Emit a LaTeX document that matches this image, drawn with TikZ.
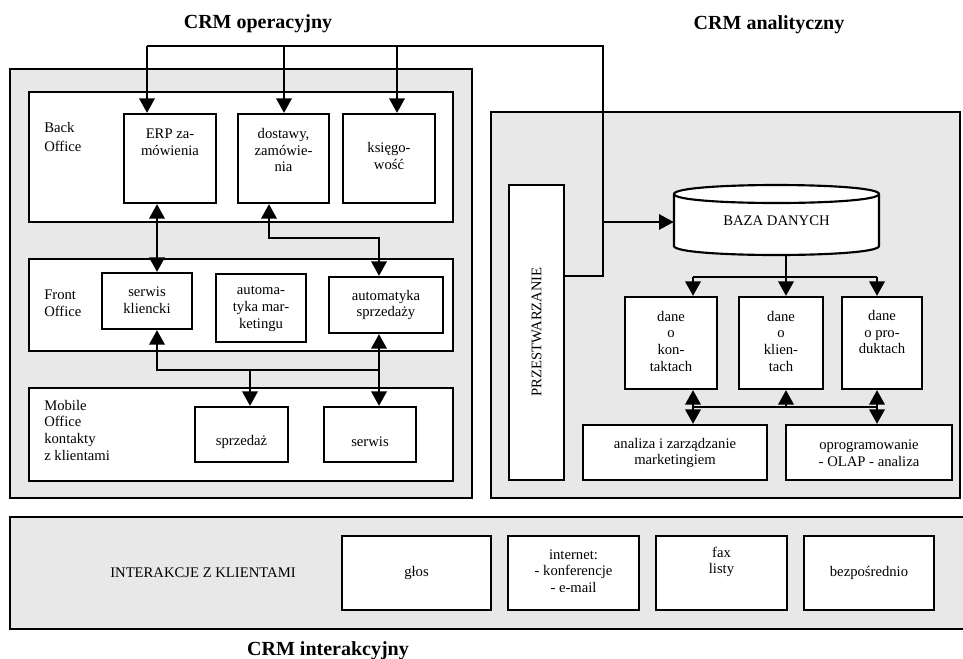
\documentclass[tikz,border=0pt]{standalone}
\usepackage{fontspec}
\setmainfont{Liberation Serif}
\usetikzlibrary{arrows.meta,fit,calc}
\definecolor{panelgray}{RGB}{232,232,232}
\begin{document}
\begin{tikzpicture}[x=0.75pt,y=-0.75pt,
  every node/.style={font=\fontsize{11}{12.5}\selectfont, inner sep=0pt, align=center},
  panel/.style={draw, fill=panelgray, line width=1.3pt, inner sep=0pt},
  office/.style={draw, fill=white, line width=1.5pt, inner sep=0pt},
  box/.style={draw, fill=white, line width=1.6pt, inner sep=0pt},
  ghost/.style={inner sep=0pt},
  conn/.style={line width=2.1pt},
  thinconn/.style={line width=1.4pt},
  title/.style={font=\fontsize{15}{18}\selectfont\bfseries, anchor=base},
  >={Triangle[width=11.5pt,length=11pt]}
]
\useasboundingbox (0,0) rectangle (963,658);

% titles
\node[title] (t1) at (258,28) {CRM operacyjny};
\node[title] (t2) at (769,29) {CRM analityczny};
\node[title] (t3) at (328,655) {CRM interakcyjny};

% panels
\node[panel, fit={(10,69) (472,498)}] (opPanel) {};
\node[panel, fit={(491,112) (960,498)}] (anPanel) {};
\node[panel, fit={(10,517) (970,629)}] (inPanel) {};

% offices
\node[office, fit={(29,92) (453,222)}] (back) {};
\node[office, fit={(29,259) (453,351)}] (front) {};
\node[office, fit={(29,388) (453,481)}] (mobile) {};

\node[anchor=west, align=left, font=\fontsize{11}{14}\selectfont] (tback) at (44,137) {Back\\Office};
\node[anchor=west, align=left] (tfront) at (44,303) {Front\\Office};
\node[anchor=west, align=left] (tmobile) at (44,430) {Mobile\\Office\\kontakty\\z klientami};

% operational boxes
\node[box, fit={(124,114) (216,203)}] (erp) {};
\node[box, fit={(238,114) (329,203)}] (dost) {};
\node[box, fit={(343,114) (435,203)}] (ksieg) {};
\node[box, fit={(102,273) (192,329)}] (serk) {};
\node[box, fit={(216,274) (306,342)}] (amark) {};
\node[box, fit={(329,277) (443,333)}] (asprz) {};
\node[box, fit={(195,407) (288,462)}] (sprz) {};
\node[box, fit={(324,407) (416,462)}] (serw) {};

\node (terp) at (170,142) {ERP za-\\mówienia};
\node (tdost) at (283.5,150) {dostawy,\\zamówie-\\nia};
\node (tksieg) at (389,156) {księgo-\\wość};
\node (tserk) at (147,300) {serwis\\kliencki};
\node (tamark) at (261,309) {automa-\\tyka mar-\\ketingu};
\node (tasprz) at (386,305) {automatyka\\sprzedaży};
\node (tsprz) at (241.5,442) {sprzedaż};
\node (tserw) at (370,442) {serwis};

% analytical
\node[box, fit={(509,185) (564,480)}] (przes) {};
\node[rotate=90] (tprzes) at (536.5,332) {PRZESTWARZANIE};

\node[ghost, fit={(674,185) (879,255)}] (baza) {};
\draw[line width=1.6pt, fill=white] (674,194) -- (674,246)
  .. controls (674,258) and (879,258) .. (879,246) -- (879,194)
  .. controls (879,182) and (674,182) .. (674,194) -- cycle;
\draw[line width=1.6pt] (674,194) .. controls (674,206) and (879,206) .. (879,194);
\node (tbaza) at (776.5,221) {BAZA DANYCH};

\node[box, fit={(625,297) (717,389)}] (dkont) {};
\node[box, fit={(739,297) (823,389)}] (dklient) {};
\node[box, fit={(842,297) (922,389)}] (dprod) {};
\node[box, fit={(583,425) (767,480)}] (anal) {};
\node[box, fit={(786,425) (952,480)}] (oprog) {};

\node (tdkont) at (671,341) {dane\\o\\kon-\\taktach};
\node (tdklient) at (781,341) {dane\\o\\klien-\\tach};
\node (tdprod) at (882,332) {dane\\o pro-\\duktach};
\node (tanal) at (675,453) {analiza i zarządzanie\\marketingiem};
\node (toprog) at (869,453) {oprogramowanie\\- OLAP - analiza};

% interaction
\node (tinter) at (203,573) {INTERAKCJE Z KLIENTAMI};
\node[box, fit={(342,536) (491,610)}] (glos) {};
\node[box, fit={(508,536) (639,610)}] (inet) {};
\node[box, fit={(656,536) (787,610)}] (fax) {};
\node[box, fit={(804,536) (934,610)}] (bezp) {};
\node (tglos) at (416.5,573) {głos};
\node (tinet) at (573.5,571) {internet:\\- konferencje\\- e-mail};
\node (tfax) at (721.5,562) {fax\\listy};
\node (tbezp) at (869,573) {bezpośrednio};

% connectors: top loop
\coordinate (tl) at (147,46);
\coordinate (tr) at (603,46);
\draw[thinconn] (przes.east |- 0,276) -| (tr) -- (tl);
\draw[conn,->] (tl) -- (tl |- erp.north);
\draw[conn,->] (284,46) -- (284,0 |- dost.north);
\draw[conn,->] (397,46) -- (397,0 |- ksieg.north);
\draw[thinconn,->] (tr |- 0,222) -- (baza.west |- 0,222);

% back <-> front
\draw[conn,<->] (157,0 |- erp.south) -- (157,0 |- serk.north);
\draw[conn,<->] (269,0 |- dost.south) -- (269,238) -- (379,238) -- (379,0 |- asprz.north);

% front <-> mobile
\draw[conn,<->] (157,0 |- serk.south) -- (157,370) -- (379,370) -- (379,0 |- asprz.south);
\draw[conn,->] (379,370) -- (379,0 |- serw.north);
\draw[conn,->] (250,370) -- (250,0 |- sprz.north);

% analytical connectors
\draw[conn] (786,0 |- baza.south) -- (786,277);
\draw[conn] (693,277) -- (877,277);
\draw[conn,->] (693,277) -- (693,0 |- dkont.north);
\draw[conn,->] (786,277) -- (786,0 |- dklient.north);
\draw[conn,->] (877,277) -- (877,0 |- dprod.north);

\draw[conn] (693,407) -- (877,407);
\draw[conn,<->] (693,0 |- dkont.south) -- (693,0 |- anal.north);
\draw[conn,<->] (877,0 |- dprod.south) -- (877,0 |- oprog.north);
\draw[conn,->] (786,407) -- (786,0 |- dklient.south);
\end{tikzpicture}
\end{document}
